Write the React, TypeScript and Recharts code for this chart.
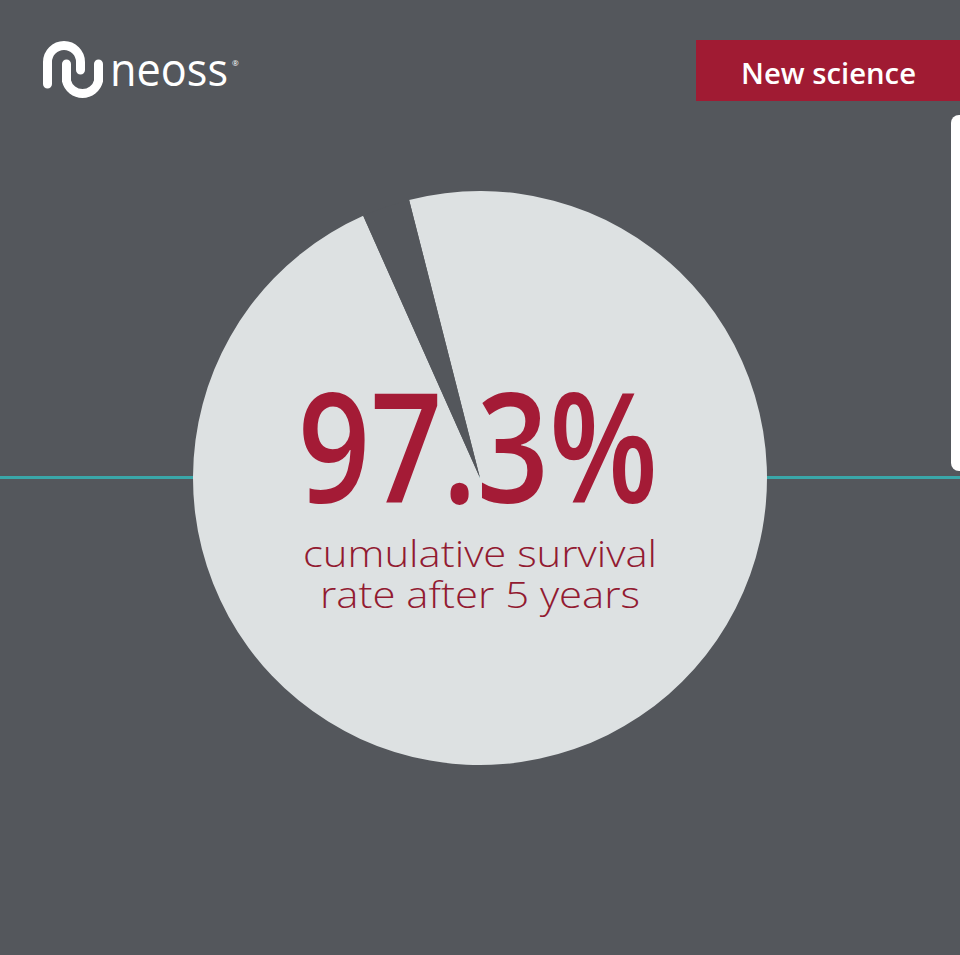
import React from 'react';
import { PieChart, Pie, Cell } from 'recharts';

// survival share vs failures after 5 years
const SLICE_NAMES = ['Survival', 'Failure'];
const SLICE_VALUES = [97.3, 2.7];
const HEADLINE = '97.3%';
const CAPTION_LINES = ['cumulative survival', 'rate after 5 years'];
const BADGE_TEXT = 'New science';

const BG = '#54575c';
const PIE_FILL = '#dde1e2';
const RED = '#a41b36';

const pieData = SLICE_NAMES.map((name, i) => ({ name, value: SLICE_VALUES[i] }));
const sliceColors = [PIE_FILL, BG];

export default function App() {
  return (
    <div style={{ position: 'relative', width: 960, height: 955, background: BG, overflow: 'hidden' }}>
      <style>{`body{margin:0}`}</style>

      {/* teal horizon line */}
      <div style={{ position: 'absolute', left: 0, top: 476, width: 960, height: 3, background: '#3aa7a9' }} />

      {/* white card peeking from the right edge */}
      <div
        style={{
          position: 'absolute', left: 951, top: 115, width: 20, height: 356,
          background: '#ffffff', borderRadius: 8,
        }}
      />

      <div style={{ position: 'absolute', left: 0, top: 0 }}>
        <PieChart width={960} height={955} margin={{ top: 0, right: 0, bottom: 0, left: 0 }}>
          <Pie
            data={pieData}
            dataKey="value"
            nameKey="name"
            cx={480}
            cy={478}
            outerRadius={287}
            startAngle={104.3}
            endAngle={-255.7}
            stroke="none"
            isAnimationActive={false}
          >
            {pieData.map((entry, index) => (
              <Cell key={`cell-${index}`} fill={sliceColors[index]} stroke="none" />
            ))}
          </Pie>
        </PieChart>
      </div>

      {/* texts and logo on top */}
      <svg width={960} height={955} style={{ position: 'absolute', left: 0, top: 0 }}>
        {/* logo mark */}
        <g fill="none" stroke="#ffffff" strokeWidth={9} strokeLinecap="round">
          <path d="M 47.5 84 V 62 A 16.5 16.5 0 0 1 80.5 62 V 70" />
          <path d="M 66.5 64 V 81 A 16.5 16.5 0 0 0 98.5 81 V 64" />
        </g>
        <text
          x={110} y={86} fill="#ffffff" fontFamily="'Open Sans', sans-serif"
          fontSize={45} fontWeight={400} textLength={118} lengthAdjust="spacingAndGlyphs"
        >
          neoss
        </text>
        <text x={232} y={66} fill="#ffffff" fontFamily="'Open Sans', sans-serif" fontSize={8}>®</text>

        {/* badge */}
        <rect x={696} y={40} width={264} height={61} fill="#a01b33" />
        <text
          x={741} y={84} fill="#ffffff" fontFamily="'Open Sans', sans-serif"
          fontSize={28} fontWeight={600} textLength={175} lengthAdjust="spacingAndGlyphs"
        >
          {BADGE_TEXT}
        </text>

        {/* headline */}
        <text
          x={298} y={503} fill={RED} fontFamily="'Open Sans', sans-serif"
          fontSize={153} fontWeight={600} textLength={360} lengthAdjust="spacingAndGlyphs"
        >
          {HEADLINE}
        </text>
        <text
          x={303} y={567} fill="#921a31" fontFamily="'Open Sans', sans-serif"
          fontSize={37} fontWeight={300} textLength={354} lengthAdjust="spacingAndGlyphs"
        >
          {CAPTION_LINES[0]}
        </text>
        <text
          x={320} y={608} fill="#921a31" fontFamily="'Open Sans', sans-serif"
          fontSize={37} fontWeight={300} textLength={320} lengthAdjust="spacingAndGlyphs"
        >
          {CAPTION_LINES[1]}
        </text>
      </svg>
    </div>
  );
}
